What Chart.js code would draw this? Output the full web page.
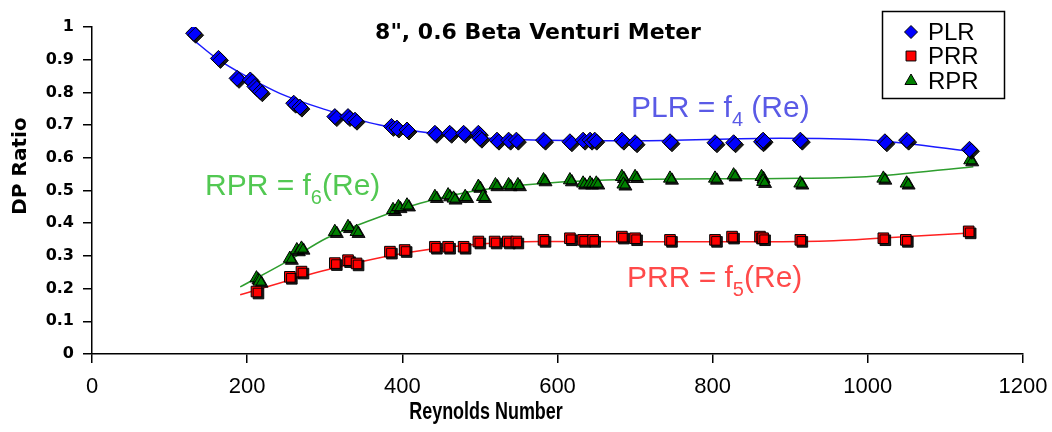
<!DOCTYPE html>
<html>
<head>
<meta charset="utf-8">
<script src="https://cdn.jsdelivr.net/npm/chart.js@4.4.1/dist/chart.umd.min.js"></script>
<style>
  html, body { margin: 0; padding: 0; background: #fff; }
  #wrap { width: 1052px; height: 432px; }
</style>
</head>
<body>
<div id="wrap"><canvas id="venturiChart" width="1052" height="432"></canvas></div>
<script>
// ---- data ----
const plrRe    = [131, 163, 187, 204, 210, 217, 260, 268, 313, 330, 339, 386, 393, 406, 442, 461, 479, 498, 500, 522, 537, 547, 582, 616, 633, 642, 648, 683, 700, 745, 803, 827, 863, 865, 913, 1022, 1050, 1131];
const plrRatio = [0.981, 0.904, 0.843, 0.838, 0.818, 0.802, 0.767, 0.755, 0.726, 0.726, 0.715, 0.696, 0.691, 0.685, 0.675, 0.675, 0.675, 0.675, 0.660, 0.654, 0.654, 0.654, 0.654, 0.649, 0.654, 0.654, 0.654, 0.654, 0.646, 0.649, 0.646, 0.646, 0.649, 0.654, 0.654, 0.649, 0.654, 0.626];

const prrRe    = [212, 255, 270, 313, 330, 341, 384, 403, 442, 459, 479, 498, 519, 536, 547, 582, 616, 633, 646, 683, 700, 745, 803, 825, 861, 865, 913, 1020, 1049, 1130];
const prrRatio = [0.191, 0.236, 0.252, 0.278, 0.287, 0.277, 0.313, 0.318, 0.328, 0.328, 0.328, 0.344, 0.344, 0.344, 0.344, 0.349, 0.354, 0.349, 0.349, 0.359, 0.354, 0.349, 0.349, 0.359, 0.359, 0.354, 0.349, 0.354, 0.349, 0.375];

const rprRe    = [212, 216, 255, 264, 270, 313, 330, 341, 388, 395, 406, 442, 459, 466, 481, 498, 504, 520, 537, 549, 582, 616, 633, 642, 650, 683, 685, 700, 745, 803, 827, 863, 865, 913, 1020, 1050, 1132];
const rprRatio = [0.232, 0.222, 0.292, 0.318, 0.323, 0.374, 0.389, 0.374, 0.441, 0.450, 0.455, 0.481, 0.486, 0.476, 0.481, 0.512, 0.481, 0.517, 0.517, 0.517, 0.532, 0.532, 0.522, 0.522, 0.522, 0.542, 0.519, 0.542, 0.537, 0.537, 0.547, 0.542, 0.527, 0.522, 0.537, 0.522, 0.593];

// trend lines f4, f5, f6
const plrFitRe = [131, 160, 200, 242, 300, 371, 449, 556, 700, 887, 998, 1131];
const plrFit   = [0.960, 0.905, 0.848, 0.797, 0.748, 0.700, 0.672, 0.655, 0.652, 0.660, 0.655, 0.620];
const prrFitRe = [191, 302, 414, 577, 861, 956, 1063, 1132];
const prrFit   = [0.181, 0.257, 0.313, 0.344, 0.343, 0.346, 0.361, 0.370];
const rprFitRe = [191, 255, 302, 360, 423, 487, 556, 663, 887, 998, 1136];
const rprFit   = [0.205, 0.288, 0.354, 0.410, 0.461, 0.496, 0.517, 0.532, 0.537, 0.542, 0.573];

const xTicks = [0, 200, 400, 600, 800, 1000, 1200];

const pts = (xs, ys) => xs.map((x, i) => ({ x: x, y: ys[i] }));

// Excel style drop shadow under the markers
const markerShadow = {
  id: 'markerShadow',
  beforeDatasetDraw(chart, args) {
    if (chart.data.datasets[args.index].showLine) return;
    const ctx = chart.ctx;
    ctx.save();
    ctx.shadowColor = 'rgba(0,0,0,0.9)';
    ctx.shadowOffsetX = 2;
    ctx.shadowOffsetY = 2;
    ctx.shadowBlur = 0;
  },
  afterDatasetDraw(chart, args) {
    if (chart.data.datasets[args.index].showLine) return;
    chart.ctx.restore();
  }
};

// f(Re) labels with subscripts
function fLabel(ctx, x, y, pre, sub, post, color) {
  ctx.fillStyle = color;
  ctx.textBaseline = 'alphabetic';
  ctx.textAlign = 'left';
  ctx.font = '30px "Liberation Sans", Arial, sans-serif';
  ctx.fillText(pre, x, y);
  x += ctx.measureText(pre).width;
  ctx.font = '20px "Liberation Sans", Arial, sans-serif';
  ctx.fillText(sub, x, y + 9);
  x += ctx.measureText(sub).width;
  ctx.font = '30px "Liberation Sans", Arial, sans-serif';
  ctx.fillText(post, x, y);
}

const decorations = {
  id: 'decorations',
  afterDraw(chart) {
    const ctx = chart.ctx;
    ctx.save();

    // title inside the plot
    ctx.fillStyle = '#000';
    ctx.font = 'bold 22px "DejaVu Sans", sans-serif';
    ctx.textAlign = 'center';
    ctx.textBaseline = 'middle';
    ctx.fillText('8", 0.6 Beta Venturi Meter', 538, 33);

    // axis titles
    ctx.save();
    ctx.translate(486, 413);
    ctx.scale(0.78, 1);
    ctx.font = 'bold 23px "Liberation Sans", sans-serif';
    ctx.fillText('Reynolds Number', 0, 0);
    ctx.restore();
    ctx.save();
    ctx.translate(21, 166);
    ctx.rotate(-Math.PI / 2);
    ctx.font = 'bold 20px "DejaVu Sans", sans-serif';
    ctx.fillText('DP Ratio', 0, 0);
    ctx.restore();

    fLabel(ctx, 631, 117, 'PLR = f', '4', ' (Re)', '#5a5ae6');
    fLabel(ctx, 205, 195, 'RPR = f', '6', '(Re)', '#52c852');
    fLabel(ctx, 627, 287, 'PRR = f', '5', '(Re)', '#ff4a4a');

    // legend box
    ctx.strokeStyle = '#000';
    ctx.lineWidth = 1.5;
    ctx.strokeRect(882.5, 11.5, 122, 87);
    const items = [
      { text: 'PLR', style: 'rectRot', color: '#0000ff', r: 6.5, y: 32 },
      { text: 'PRR', style: 'rect', color: '#ff0000', r: 7, y: 56 },
      { text: 'RPR', style: 'triangle', color: '#008000', r: 7, y: 81 }
    ];
    ctx.font = '24px "Liberation Sans", Arial, sans-serif';
    ctx.textAlign = 'left';
    ctx.textBaseline = 'middle';
    items.forEach(it => {
      ctx.fillStyle = it.color;
      ctx.strokeStyle = '#000';
      ctx.lineWidth = 1;
      Chart.helpers.drawPoint(ctx, { pointStyle: it.style, radius: it.r, borderWidth: 1, rotation: 0 }, 911, it.y);
      ctx.fillStyle = '#000';
      ctx.fillText(it.text, 928, it.y + 1);
    });
    ctx.restore();
  }
};

const ctx = document.getElementById('venturiChart').getContext('2d');
new Chart(ctx, {
  type: 'scatter',
  data: {
    datasets: [
      { label: 'PLR', data: pts(plrRe, plrRatio), pointStyle: 'rectRot', pointRadius: 8,
        backgroundColor: '#0000ff', borderColor: '#000', borderWidth: 1, showLine: false, order: 0 },
      { label: 'PRR', data: pts(prrRe, prrRatio), pointStyle: 'rect', pointRadius: 7.5,
        backgroundColor: '#ff0000', borderColor: '#000', borderWidth: 1, showLine: false, order: 0 },
      { label: 'RPR', data: pts(rprRe, rprRatio), pointStyle: 'triangle', pointRadius: 7.5,
        backgroundColor: '#008000', borderColor: '#000', borderWidth: 1, showLine: false, order: 0 },
      { label: 'f4', data: pts(plrFitRe, plrFit), showLine: true, pointRadius: 0,
        borderColor: '#1a1aff', borderWidth: 1.5, cubicInterpolationMode: 'monotone', order: 1 },
      { label: 'f5', data: pts(prrFitRe, prrFit), showLine: true, pointRadius: 0,
        borderColor: '#ff2020', borderWidth: 1.5, cubicInterpolationMode: 'monotone', order: 1 },
      { label: 'f6', data: pts(rprFitRe, rprFit), showLine: true, pointRadius: 0,
        borderColor: '#2e9e2e', borderWidth: 1.5, cubicInterpolationMode: 'monotone', order: 1 }
    ]
  },
  options: {
    responsive: false,
    animation: false,
    layout: { padding: { top: 27, right: 29, left: 0, bottom: 0 } },
    plugins: {
      legend: { display: false },
      tooltip: { enabled: false }
    },
    scales: {
      x: {
        type: 'linear', min: 0, max: 1200,
        afterBuildTicks: s => { s.ticks = xTicks.map(v => ({ value: v })); },
        afterFit: s => { s.height = 78; s.paddingLeft = 0; s.paddingRight = 0; },
        ticks: { color: '#000', padding: 11, maxRotation: 0,
                 callback: v => String(v),
                 font: { family: "'Liberation Sans', Arial, sans-serif", size: 22 } },
        grid: { drawOnChartArea: false, tickLength: 9, color: '#000', lineWidth: 1.5 },
        border: { color: '#000', width: 1.5 }
      },
      y: {
        min: 0, max: 1,
        afterFit: s => { s.width = 92; s.paddingTop = 0; s.paddingBottom = 0; },
        ticks: { stepSize: 0.1, color: '#000', padding: 9,
                 callback: v => String(Math.round(v * 10) / 10),
                 font: { family: "'DejaVu Sans', sans-serif", size: 16, weight: 'bold' } },
        grid: { drawOnChartArea: false, tickLength: 9, color: '#000', lineWidth: 1.5 },
        border: { color: '#000', width: 1.5 }
      }
    }
  },
  plugins: [markerShadow, decorations]
});
</script>
</body>
</html>
